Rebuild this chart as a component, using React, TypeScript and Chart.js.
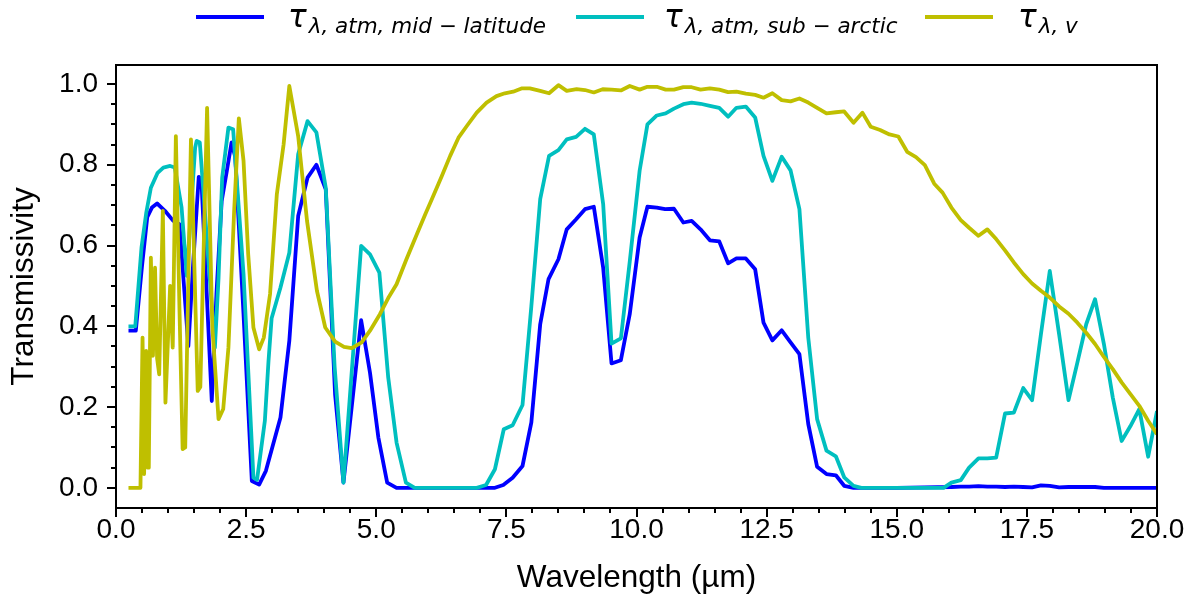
import React, { useEffect, useRef } from "react";
import { Chart, registerables } from "chart.js";

Chart.register(...registerables);

// [wavelength (µm), transmissivity]
const midLatitude: [number, number][] = [
  [0.24, 0.389], [0.38, 0.389], [0.5, 0.55], [0.6, 0.67], [0.69, 0.694], [0.79, 0.704], [0.94, 0.686],
  [1.1, 0.661], [1.22, 0.653], [1.39, 0.351], [1.48, 0.55], [1.59, 0.77], [1.64, 0.765], [1.84, 0.215],
  [1.93, 0.48], [2.03, 0.71], [2.13, 0.785], [2.22, 0.855], [2.29, 0.82], [2.45, 0.43], [2.61, 0.017],
  [2.75, 0.008], [2.88, 0.042], [3.16, 0.174], [3.33, 0.364], [3.5, 0.673], [3.68, 0.768], [3.85, 0.8],
  [4.03, 0.739], [4.21, 0.23], [4.37, 0.013], [4.71, 0.415], [4.88, 0.285], [5.04, 0.125], [5.21, 0.013],
  [5.39, 0.0], [6.2, 0.0], [7.28, 0.0], [7.44, 0.007], [7.62, 0.025], [7.81, 0.054], [7.98, 0.162],
  [8.15, 0.405], [8.31, 0.517], [8.5, 0.566], [8.66, 0.64], [8.84, 0.665], [9.01, 0.69], [9.18, 0.696],
  [9.36, 0.545], [9.52, 0.308], [9.7, 0.316], [9.87, 0.43], [10.06, 0.62], [10.21, 0.696], [10.39, 0.694],
  [10.55, 0.69], [10.72, 0.691], [10.9, 0.657], [11.06, 0.661], [11.23, 0.64], [11.41, 0.613], [11.59, 0.61],
  [11.76, 0.556], [11.92, 0.568], [12.1, 0.568], [12.28, 0.541], [12.44, 0.409], [12.61, 0.365], [12.79, 0.39],
  [12.96, 0.36], [13.13, 0.331], [13.3, 0.158], [13.47, 0.052], [13.65, 0.034], [13.83, 0.031], [13.99, 0.005],
  [14.17, 0.0], [15.0, 0.0], [16.05, 0.002], [16.23, 0.003], [16.39, 0.003], [16.57, 0.004], [16.74, 0.003],
  [16.91, 0.003], [17.08, 0.002], [17.25, 0.003], [17.43, 0.002], [17.6, 0.001], [17.77, 0.006], [17.94, 0.005],
  [18.12, 0.001], [18.3, 0.002], [18.47, 0.002], [18.64, 0.002], [18.81, 0.002], [18.98, 0.0], [19.15, 0.0],
  [19.5, 0.0], [20.0, 0.0],
];

const subArctic: [number, number][] = [
  [0.24, 0.4], [0.37, 0.4], [0.49, 0.595], [0.58, 0.68], [0.67, 0.743], [0.8, 0.78], [0.91, 0.793],
  [1.04, 0.797], [1.13, 0.793], [1.26, 0.694], [1.36, 0.525], [1.52, 0.842], [1.55, 0.859], [1.61, 0.855],
  [1.9, 0.347], [1.97, 0.52], [2.04, 0.768], [2.16, 0.892], [2.25, 0.888], [2.45, 0.53], [2.64, 0.025],
  [2.71, 0.02], [2.86, 0.166], [2.93, 0.314], [2.99, 0.42], [3.16, 0.496], [3.33, 0.582], [3.5, 0.826],
  [3.68, 0.908], [3.85, 0.88], [4.03, 0.743], [4.2, 0.3], [4.37, 0.013], [4.71, 0.599], [4.88, 0.578],
  [5.06, 0.533], [5.23, 0.273], [5.39, 0.112], [5.57, 0.013], [5.74, 0.0], [6.3, 0.0], [6.93, 0.0],
  [7.11, 0.007], [7.28, 0.046], [7.45, 0.145], [7.62, 0.155], [7.81, 0.205], [7.98, 0.45], [8.15, 0.715],
  [8.32, 0.822], [8.5, 0.836], [8.66, 0.863], [8.84, 0.869], [9.01, 0.889], [9.18, 0.875], [9.36, 0.702],
  [9.52, 0.357], [9.7, 0.37], [9.87, 0.56], [10.06, 0.785], [10.21, 0.9], [10.39, 0.922], [10.56, 0.927],
  [10.72, 0.939], [10.9, 0.95], [11.06, 0.954], [11.23, 0.951], [11.41, 0.946], [11.59, 0.941], [11.76, 0.919],
  [11.92, 0.941], [12.1, 0.944], [12.28, 0.917], [12.44, 0.822], [12.61, 0.76], [12.79, 0.82], [12.96, 0.786],
  [13.13, 0.69], [13.3, 0.372], [13.47, 0.17], [13.65, 0.092], [13.83, 0.078], [13.99, 0.026], [14.17, 0.005],
  [14.32, 0.0], [15.1, 0.0], [15.9, 0.0], [16.05, 0.013], [16.23, 0.019], [16.39, 0.05], [16.57, 0.073],
  [16.74, 0.073], [16.91, 0.075], [17.08, 0.184], [17.25, 0.186], [17.43, 0.247], [17.6, 0.217], [17.77, 0.38],
  [17.94, 0.537], [18.12, 0.38], [18.3, 0.217], [18.47, 0.31], [18.64, 0.405], [18.81, 0.467], [18.98, 0.356],
  [19.15, 0.224], [19.32, 0.116], [19.49, 0.153], [19.66, 0.195], [19.83, 0.077], [20.0, 0.19],
];

const vegetation: [number, number][] = [
  [0.24, 0.0], [0.47, 0.0], [0.51, 0.372], [0.54, 0.034], [0.58, 0.339], [0.61, 0.05], [0.63, 0.05],
  [0.67, 0.57], [0.71, 0.327], [0.75, 0.545], [0.79, 0.32], [0.83, 0.281], [0.9, 0.686], [0.95, 0.211],
  [1.04, 0.5], [1.09, 0.347], [1.15, 0.871], [1.22, 0.44], [1.28, 0.096], [1.33, 0.1], [1.44, 0.863],
  [1.57, 0.24], [1.62, 0.25], [1.75, 0.941], [1.85, 0.4], [1.97, 0.17], [2.06, 0.195], [2.16, 0.347],
  [2.27, 0.686], [2.36, 0.915], [2.45, 0.81], [2.54, 0.578], [2.64, 0.397], [2.75, 0.343], [2.84, 0.372],
  [2.96, 0.48], [3.09, 0.727], [3.22, 0.85], [3.33, 0.995], [3.5, 0.871], [3.67, 0.661], [3.86, 0.488],
  [4.02, 0.397], [4.21, 0.362], [4.38, 0.349], [4.53, 0.346], [4.72, 0.36], [4.88, 0.389], [5.07, 0.43],
  [5.23, 0.47], [5.39, 0.504], [5.58, 0.566], [5.78, 0.628], [5.94, 0.677], [6.07, 0.715], [6.26, 0.772],
  [6.42, 0.822], [6.58, 0.867], [6.74, 0.896], [6.93, 0.929], [7.12, 0.954], [7.31, 0.97], [7.47, 0.977],
  [7.63, 0.981], [7.79, 0.989], [7.95, 0.989], [8.15, 0.983], [8.32, 0.977], [8.5, 0.997], [8.66, 0.983],
  [8.85, 0.987], [9.01, 0.985], [9.18, 0.979], [9.35, 0.987], [9.52, 0.986], [9.7, 0.984], [9.87, 0.995],
  [10.06, 0.986], [10.21, 0.993], [10.39, 0.993], [10.56, 0.986], [10.72, 0.986], [10.9, 0.992], [11.06, 0.992],
  [11.23, 0.986], [11.41, 0.989], [11.59, 0.986], [11.76, 0.98], [11.92, 0.981], [12.1, 0.976], [12.28, 0.973],
  [12.44, 0.966], [12.61, 0.977], [12.79, 0.96], [12.96, 0.957], [13.13, 0.964], [13.3, 0.954], [13.47, 0.941],
  [13.65, 0.927], [13.83, 0.93], [13.99, 0.932], [14.17, 0.904], [14.34, 0.929], [14.5, 0.894], [14.68, 0.886],
  [14.86, 0.875], [15.03, 0.87], [15.2, 0.832], [15.37, 0.819], [15.54, 0.799], [15.72, 0.753], [15.88, 0.731],
  [16.05, 0.694], [16.23, 0.663], [16.39, 0.644], [16.57, 0.624], [16.74, 0.64], [16.91, 0.616], [17.08, 0.588],
  [17.25, 0.558], [17.43, 0.529], [17.6, 0.506], [17.77, 0.488], [17.94, 0.471], [18.12, 0.449], [18.3, 0.431],
  [18.47, 0.409], [18.64, 0.384], [18.81, 0.356], [18.98, 0.324], [19.15, 0.294], [19.32, 0.261], [19.49, 0.232],
  [19.66, 0.203], [19.83, 0.166], [20.0, 0.133],
];

const seriesColors = ["#0000ff", "#00bfbf", "#bfbf00"];
const seriesSubscripts = ["λ, atm, mid − latitude", "λ, atm, sub − arctic", "λ, v"];

const xMajorTicks = [0, 2.5, 5, 7.5, 10, 12.5, 15, 17.5, 20];
const xMinorTicks = [0.5, 1, 1.5, 2, 3, 3.5, 4, 4.5, 5.5, 6, 6.5, 7, 8, 8.5, 9, 9.5, 10.5, 11, 11.5, 12, 13, 13.5, 14, 14.5, 15.5, 16, 16.5, 17, 18, 18.5, 19, 19.5];
const yMajorTicks = [0, 0.2, 0.4, 0.6, 0.8, 1.0];
const yMinorTicks = [0.05, 0.1, 0.15, 0.25, 0.3, 0.35, 0.45, 0.5, 0.55, 0.65, 0.7, 0.75, 0.85, 0.9, 0.95];

const TICK_FONT = "'Liberation Sans', Arial, sans-serif";

const frameTicks = {
  id: "frameTicks",
  afterDraw(chart: any) {
    const { ctx, chartArea: a, scales } = chart;
    const x = scales.x;
    const y = scales.y;
    ctx.save();
    ctx.strokeStyle = "#000";
    ctx.lineWidth = 2;
    ctx.lineCap = "butt";
    ctx.strokeRect(a.left, a.top, a.right - a.left, a.bottom - a.top);
    const hTick = (v: number, len: number) => {
      const px = Math.round(x.getPixelForValue(v));
      ctx.beginPath();
      ctx.moveTo(px, a.bottom);
      ctx.lineTo(px, a.bottom + len);
      ctx.stroke();
    };
    const vTick = (v: number, len: number) => {
      const py = Math.round(y.getPixelForValue(v));
      ctx.beginPath();
      ctx.moveTo(a.left, py);
      ctx.lineTo(a.left - len, py);
      ctx.stroke();
    };
    xMajorTicks.forEach((v) => hTick(v, 9));
    xMinorTicks.forEach((v) => hTick(v, 5));
    yMajorTicks.forEach((v) => vTick(v, 9));
    yMinorTicks.forEach((v) => vTick(v, 5));
    ctx.restore();
  },
};

const legendLayout = [
  { lineX: 196, textX: 288 },
  { lineX: 576, textX: 664 },
  { lineX: 925, textX: 1018 },
];

export default function App() {
  const canvasRef = useRef<HTMLCanvasElement | null>(null);

  useEffect(() => {
    document.body.style.margin = "0";
    const canvas = canvasRef.current;
    if (!canvas) return;
    const mk = (d: [number, number][], i: number, order: number) => ({
      label: seriesSubscripts[i],
      data: d.map(([x, y]) => ({ x, y })),
      borderColor: seriesColors[i],
      backgroundColor: seriesColors[i],
      borderWidth: 3.8,
      pointRadius: 0,
      tension: 0,
      fill: false,
      borderJoinStyle: "round" as const,
      order,
    });
    const chart = new Chart(canvas, {
      type: "line",
      data: {
        datasets: [mk(midLatitude, 0, 3), mk(subArctic, 1, 2), mk(vegetation, 2, 1)],
      },
      options: {
        animation: false,
        responsive: false,
        devicePixelRatio: 1,
        layout: { padding: { top: 65, right: 40, left: 0, bottom: 0 } },
        plugins: { legend: { display: false }, tooltip: { enabled: false } },
        scales: {
          x: {
            type: "linear",
            min: 0,
            max: 20,
            afterBuildTicks: (s: any) => {
              s.ticks = xMajorTicks.map((value) => ({ value }));
            },
            afterFit: (s: any) => {
              s.height = 90;
            },
            grid: { display: false, drawTicks: false },
            border: { display: false },
            ticks: {
              padding: 5,
              color: "#000",
              autoSkip: false,
              maxRotation: 0,
              font: { family: TICK_FONT, size: 28 },
              callback: (v: any) => Number(v).toFixed(1),
            },
            title: {
              display: true,
              text: "Wavelength (µm)",
              color: "#000",
              font: { family: TICK_FONT, size: 31.5 },
              padding: { top: 0, bottom: 1 },
            },
          },
          y: {
            type: "linear",
            min: -0.05,
            max: 1.047,
            afterBuildTicks: (s: any) => {
              s.ticks = yMajorTicks.map((value) => ({ value }));
            },
            afterFit: (s: any) => {
              s.width = 116;
            },
            grid: { display: false, drawTicks: false },
            border: { display: false },
            ticks: {
              padding: 18,
              color: "#000",
              autoSkip: false,
              font: { family: TICK_FONT, size: 28 },
              callback: (v: any) => Number(v).toFixed(1),
            },
            title: {
              display: true,
              text: "Transmissivity",
              color: "#000",
              font: { family: TICK_FONT, size: 31.5 },
              padding: { top: 5, bottom: 0 },
            },
          },
        },
      },
      plugins: [frameTicks],
    });
    return () => chart.destroy();
  }, []);

  return (
    <div style={{ position: "relative", width: 1197, height: 598, background: "#fff", overflow: "hidden" }}>
      <canvas ref={canvasRef} width={1197} height={598} style={{ position: "absolute", left: 0, top: 0 }} />
      {legendLayout.map((p, i) => (
        <React.Fragment key={i}>
          <div
            style={{
              position: "absolute",
              left: p.lineX,
              top: 15,
              width: 68,
              height: 3.6,
              background: seriesColors[i],
            }}
          />
          <div
            style={{
              position: "absolute",
              left: p.textX,
              top: 1,
              whiteSpace: "nowrap",
              fontFamily: "'DejaVu Sans', sans-serif",
              fontStyle: "italic",
              fontSize: 31,
              lineHeight: "30px",
              color: "#000",
            }}
          >
            <span>τ</span>
            <span style={{ fontSize: 21.5, position: "relative", top: 6, marginLeft: 2 }}>{seriesSubscripts[i]}</span>
          </div>
        </React.Fragment>
      ))}
    </div>
  );
}
